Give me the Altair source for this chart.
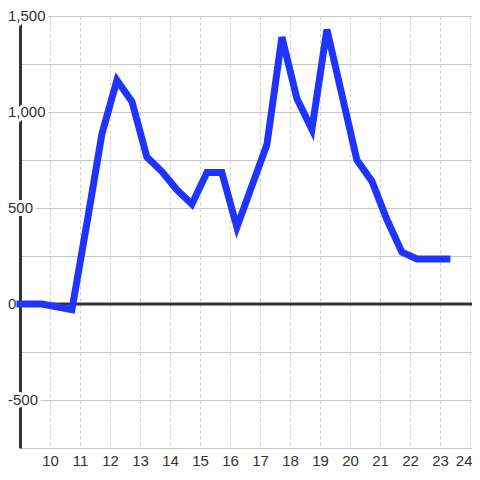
import altair as alt
import pandas as pd

# data
hours = [9.0, 9.73, 10.73, 11.23, 11.73, 12.23, 12.73, 13.23, 13.73, 14.23, 14.73,
         15.23, 15.73, 16.23, 16.73, 17.23, 17.73, 18.23, 18.73, 19.23, 19.73,
         20.23, 20.73, 21.23, 21.73, 22.23, 22.73, 23.23]
values = [0, 0, -30, 420, 885, 1165, 1055, 765, 690, 595, 520,
          685, 685, 400, 615, 830, 1390, 1070, 910, 1430, 1090,
          750, 640, 440, 270, 235, 235, 235]
y_label_vals = [-500, 0, 500, 1000, 1500]
y_label_text = ["-500", "0", "500", "1,000", "1,500"]
y_grid_vals = [-750, -500, -250, 0, 250, 500, 750, 1000, 1250, 1500]
x_ticks = list(range(10, 25))

df = pd.DataFrame({"x": hours, "y": values})
lab = pd.DataFrame({"v": y_label_vals, "t": y_label_text})
zero_df = pd.DataFrame({"z": [0]})

FONT = "Liberation Sans"
W = 452
xs = alt.Scale(domain=[9, 9 + W / 30], nice=False, zero=False)
ys = alt.Scale(domain=[-750, 1500], nice=False, zero=False)

x_axis = alt.Axis(values=x_ticks, format="d", grid=True, gridDash=[3, 3],
                  gridColor="#cccccc", gridWidth=1, domain=False, ticks=False,
                  labelFontSize=15, labelFont=FONT, labelColor="#333333",
                  labelPadding=5, labelFlush=False, labelOverlap=False,
                  labelSeparation=0, zindex=0, title=None,
                  labelAlign={"condition": {"test": "datum.value == 24", "value": "right"},
                              "value": "center"},
                  labelOffset={"condition": {"test": "datum.value == 24", "value": 2},
                               "value": 0})
y_axis = alt.Axis(values=y_grid_vals, grid=True, gridColor="#c8c8c8", gridWidth=1,
                  labels=False, ticks=False, domain=True, domainColor="#333333",
                  domainWidth=3, zindex=0, title=None)

halo = alt.Chart(lab).mark_text(
    align="left", baseline="middle", fontSize=15, font=FONT,
    fill="white", stroke="white", strokeWidth=6, strokeJoin="round",
).encode(
    x=alt.value(-12),
    y=alt.Y("v:Q", scale=ys, axis=y_axis),
    text="t:N",
)

labels = alt.Chart(lab).mark_text(
    align="left", baseline="middle", fontSize=15, font=FONT, color="#333333",
).encode(
    x=alt.value(-12),
    y=alt.Y("v:Q", scale=ys, axis=y_axis),
    text="t:N",
)

zero = alt.Chart(zero_df).mark_rule(color="#333333", strokeWidth=3).encode(
    y=alt.Y("z:Q", scale=ys, axis=y_axis)
)

line = alt.Chart(df).mark_line(
    color="#1f35ff", strokeWidth=7, strokeCap="square", strokeJoin="miter"
).encode(
    x=alt.X("x:Q", scale=xs, axis=x_axis),
    y=alt.Y("y:Q", scale=ys, axis=y_axis),
)

chart = alt.layer(halo, labels, zero, line).properties(
    width=W, height=432,
    autosize=alt.AutoSizeParams(type="none"),
    padding={"left": 12, "top": 8, "right": 0, "bottom": 32},
    background="white",
).configure_view(stroke=None).configure_axisX(labelOverlap=False)

chart.save("out.html", embed_options={"renderer": "svg", "actions": False})
